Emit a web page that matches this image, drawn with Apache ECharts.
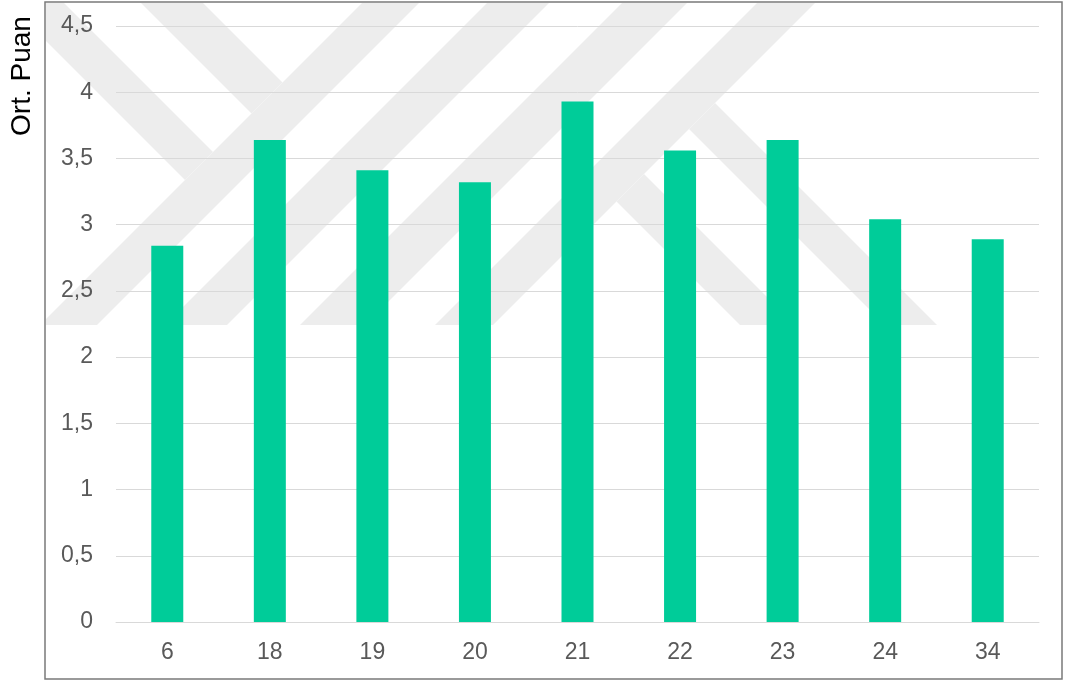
<!DOCTYPE html>
<html>
<head>
<meta charset="utf-8">
<script src="https://cdn.jsdelivr.net/npm/echarts@6/dist/echarts.min.js"></script>
<style>
html,body{margin:0;padding:0;background:#fff;}
#chart{width:1068px;height:681px;}
</style>
</head>
<body>
<div id="chart"></div>
<script>
// ---- data ----
const categories = ['6', '18', '19', '20', '21', '22', '23', '24', '34'];
const values = [2.84, 3.64, 3.41, 3.32, 3.93, 3.56, 3.64, 3.04, 2.89];
const yAxisName = 'Ort. Puan';
const yMin = 0, yMax = 4.5, yStep = 0.5;

// ---- decorative background watermark (light grey bands) ----
const WM = '#ededed';
const BOX = {x1: 45, y1: 2, x2: 1062, y2: 679};
const WM_BOTTOM = 325;
function clipLeft(pts, xmin) {
  const out = [];
  for (let i = 0; i < pts.length; i++) {
    const a = pts[i], b = pts[(i + 1) % pts.length];
    const ain = a[0] >= xmin, bin = b[0] >= xmin;
    if (ain) out.push(a);
    if (ain !== bin) {
      const t = (xmin - a[0]) / (b[0] - a[0]);
      out.push([xmin, a[1] + t * (b[1] - a[1])]);
    }
  }
  return out;
}
function clipTop(pts, ymin) {
  const out = [];
  for (let i = 0; i < pts.length; i++) {
    const a = pts[i], b = pts[(i + 1) % pts.length];
    const ain = a[1] >= ymin, bin = b[1] >= ymin;
    if (ain) out.push(a);
    if (ain !== bin) {
      const t = (ymin - a[1]) / (b[1] - a[1]);
      out.push([a[0] + t * (b[0] - a[0]), ymin]);
    }
  }
  return out;
}
const slashBands = [[365, 422], [490, 552], [625, 690], [760, 818]]; // x+y ranges
const leftBands = [[5, 61], [138, 200]];   // x-y ranges, end at first slash band
const rightBands = [[415, 470], [560, 612]]; // x-y ranges, start at last slash band
const wmPolys = [];
const top0 = -60;
slashBands.forEach(([a, b]) => {
  wmPolys.push([[a - top0, top0], [b - top0, top0], [b - WM_BOTTOM, WM_BOTTOM], [a - WM_BOTTOM, WM_BOTTOM]]);
});
const sEdge = slashBands[0][0];
leftBands.forEach(([c, d]) => {
  wmPolys.push([[c + top0, top0], [d + top0, top0], [(d + sEdge) / 2, (sEdge - d) / 2], [(c + sEdge) / 2, (sEdge - c) / 2]]);
});
const eEdge = slashBands[3][1];
rightBands.forEach(([c, d]) => {
  wmPolys.push([[(c + eEdge) / 2, (eEdge - c) / 2], [(d + eEdge) / 2, (eEdge - d) / 2], [d + WM_BOTTOM, WM_BOTTOM], [c + WM_BOTTOM, WM_BOTTOM]]);
});
const wmGraphics = wmPolys.map(p => ({
  type: 'polygon',
  z: -10,
  silent: true,
  shape: {points: clipTop(clipLeft(p, BOX.x1 + 1), BOX.y1 + 1)},
  style: {fill: WM}
}));

const chart = echarts.init(document.getElementById('chart'), null, {renderer: 'canvas'});
const FONT = 'Liberation Sans, Arial, sans-serif';
chart.setOption({
  animation: false,
  backgroundColor: '#ffffff',
  grid: {left: 116, right: 29, top: 26, bottom: 59, containLabel: false},
  xAxis: {
    type: 'category',
    data: categories,
    axisLine: {show: true, lineStyle: {color: '#d9d9d9', width: 1}},
    axisTick: {show: false},
    axisLabel: {color: '#595959', fontSize: 23, fontFamily: FONT, margin: 19}
  },
  yAxis: {
    type: 'value',
    min: yMin, max: yMax, interval: yStep,
    axisLine: {show: false},
    axisTick: {show: false},
    splitLine: {show: true, lineStyle: {color: '#d9d9d9', width: 1}},
    axisLabel: {
      color: '#595959', fontSize: 23, fontFamily: FONT, margin: 23,
      formatter: v => String(v).replace('.', ',')
    }
  },
  series: [{
    type: 'bar',
    data: values,
    barWidth: 32,
    itemStyle: {color: '#00CC99'},
    z: 2
  }],
  graphic: wmGraphics.concat([
    {
      type: 'text',
      x: 22, y: 76,
      rotation: Math.PI / 2,
      z: 100,
      style: {text: yAxisName, font: '28px ' + FONT, fill: '#000000', textAlign: 'center', textVerticalAlign: 'middle'}
    },
    {
      type: 'rect',
      z: 100,
      silent: true,
      shape: {x: BOX.x1, y: BOX.y1, width: BOX.x2 - BOX.x1, height: BOX.y2 - BOX.y1},
      style: {fill: 'none', stroke: '#7a7a7a', lineWidth: 1.5}
    }
  ])
});
</script>
</body>
</html>
